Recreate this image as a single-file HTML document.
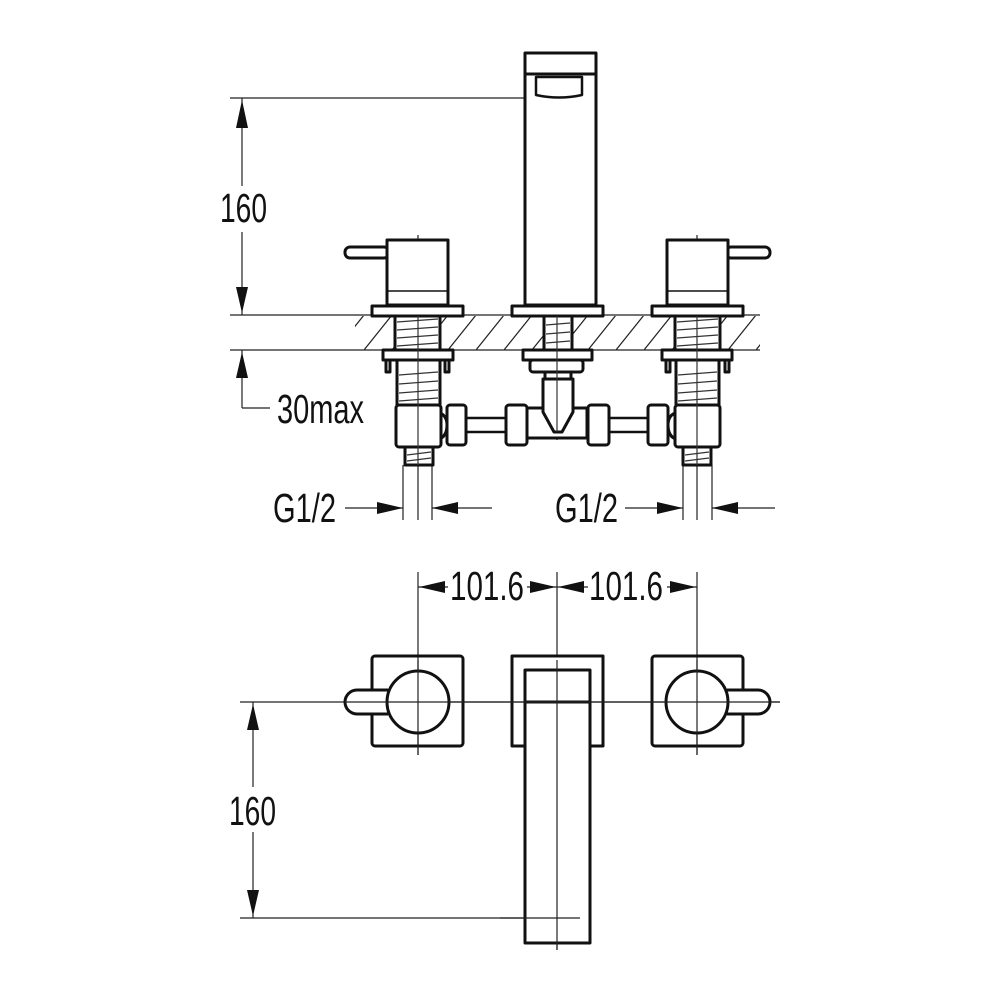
<!DOCTYPE html>
<html><head><meta charset="utf-8"><style>
html,body{margin:0;padding:0;background:#fff}
svg{display:block}
text{font-family:"Liberation Sans",sans-serif;fill:#111}
</style></head><body>
<svg width="1000" height="1000" viewBox="0 0 1000 1000" xmlns="http://www.w3.org/2000/svg">
<defs>
<pattern id="h" patternUnits="userSpaceOnUse" width="28" height="35">
<line x1="0" y1="35" x2="28" y2="0" stroke="#222" stroke-width="1.2"/>
</pattern>
<clipPath id="c"><rect x="355" y="316" width="405" height="34"/></clipPath>
</defs>
<g fill="none" stroke="#222" stroke-width="1.2">
<line x1="230" y1="98" x2="525" y2="98"/>
<line x1="242" y1="98" x2="242" y2="186"/>
<line x1="242" y1="232" x2="242" y2="315"/>
<line x1="230" y1="315" x2="760" y2="315"/>
<line x1="230" y1="350" x2="760" y2="350"/>
<line x1="242" y1="350" x2="242" y2="408"/>
<line x1="242" y1="408" x2="270" y2="408"/>
<rect x="355" y="316" width="405" height="34" fill="url(#h)" stroke="none" clip-path="url(#c)"/>
<line x1="418" y1="235" x2="418" y2="520"/>
<line x1="557" y1="55" x2="557" y2="440"/>
<line x1="697" y1="235" x2="697" y2="520"/>
<line x1="403" y1="465" x2="403" y2="520"/>
<line x1="432" y1="465" x2="432" y2="520"/>
<line x1="683" y1="465" x2="683" y2="520"/>
<line x1="712" y1="465" x2="712" y2="520"/>
<line x1="345" y1="508" x2="403" y2="508"/>
<line x1="432" y1="508" x2="492" y2="508"/>
<line x1="625" y1="508" x2="683" y2="508"/>
<line x1="712" y1="508" x2="775" y2="508"/>
<line x1="418" y1="572" x2="418" y2="755"/>
<line x1="557" y1="572" x2="557" y2="655"/>
<line x1="697" y1="572" x2="697" y2="755"/>
<line x1="418" y1="587" x2="448" y2="587"/>
<line x1="527" y1="587" x2="588" y2="587"/>
<line x1="667" y1="587" x2="697" y2="587"/>
<line x1="240" y1="702" x2="780" y2="702"/>
<line x1="557" y1="702" x2="557" y2="950"/>
<line x1="253" y1="702" x2="253" y2="787"/>
<line x1="253" y1="832" x2="253" y2="918"/>
<line x1="240" y1="918" x2="580" y2="918"/>
</g>
<g fill="#111">
<polygon points="242,100 236,128 248,128"/>
<polygon points="242,313 236,287 248,287"/>
<polygon points="242,352 236,378 248,378"/>
<polygon points="403,508 377,502 377,514"/>
<polygon points="432,508 458,502 458,514"/>
<polygon points="683,508 657,502 657,514"/>
<polygon points="712,508 738,502 738,514"/>
<polygon points="419,587 445,581 445,593"/>
<polygon points="556,587 530,581 530,593"/>
<polygon points="558,587 584,581 584,593"/>
<polygon points="696,587 670,581 670,593"/>
<polygon points="253,704 247,730 259,730"/>
<polygon points="253,916 247,890 259,890"/>
</g>
<g font-size="41">
<text x="220" y="222" textLength="47" lengthAdjust="spacingAndGlyphs">160</text>
<text x="277" y="423" textLength="87" lengthAdjust="spacingAndGlyphs">30max</text>
<text x="273" y="522" textLength="63" lengthAdjust="spacingAndGlyphs">G1/2</text>
<text x="555" y="522" textLength="63" lengthAdjust="spacingAndGlyphs">G1/2</text>
<text x="450" y="600" textLength="74" lengthAdjust="spacingAndGlyphs">101.6</text>
<text x="589" y="600" textLength="74" lengthAdjust="spacingAndGlyphs">101.6</text>
<text x="229" y="825" textLength="47" lengthAdjust="spacingAndGlyphs">160</text>
</g>
<g fill="#fff" stroke="#111" stroke-width="3" stroke-linejoin="round">
<rect x="525" y="53" width="71" height="252"/>
<line x1="525" y1="74" x2="596" y2="74"/>
<path d="M536,77 H582 V95 Q559,100 536,95 Z" stroke-width="2.5"/>
<rect x="345" y="247" width="44" height="11" rx="5"/>
<rect x="387" y="240" width="61" height="65"/>
<line x1="387" y1="291" x2="448" y2="291" stroke-width="1.5"/>
<rect x="726" y="247" width="44" height="11" rx="5"/>
<rect x="667" y="240" width="61" height="65"/>
<line x1="667" y1="291" x2="728" y2="291" stroke-width="1.5"/>
<rect x="372" y="306" width="91" height="10"/>
<rect x="512" y="306" width="91" height="10"/>
<rect x="652" y="306" width="91" height="10"/>
<rect x="395" y="316" width="45" height="34"/>
<rect x="544" y="316" width="28" height="34"/>
<rect x="675" y="316" width="45" height="34"/>
<rect x="386" y="358" width="4" height="14"/><rect x="445" y="358" width="4" height="14"/>
<rect x="383" y="350" width="70" height="10"/>
<rect x="397" y="360" width="43" height="45"/>
<path d="M433,412 Q447,412 447,425 Q447,440 433,440 Z"/>
<rect x="396" y="405" width="45" height="42" rx="3"/>
<rect x="405" y="447" width="28" height="18"/>
<rect x="666" y="358" width="4" height="14"/><rect x="725" y="358" width="4" height="14"/>
<rect x="662" y="350" width="70" height="10"/>
<rect x="676" y="360" width="43" height="45"/>
<path d="M682,412 Q668,412 668,425 Q668,440 682,440 Z"/>
<rect x="675" y="405" width="45" height="42" rx="3"/>
<rect x="683" y="447" width="28" height="18"/>
<rect x="460" y="418" width="200" height="14" stroke-width="2.5"/>
<rect x="527" y="408" width="60" height="30"/>
<rect x="447" y="405" width="19" height="40" rx="3"/>
<rect x="506" y="405" width="21" height="40" rx="3"/>
<rect x="588" y="405" width="21" height="40" rx="3"/>
<rect x="648" y="405" width="20" height="40" rx="3"/>
<rect x="523" y="350" width="69" height="10"/>
<rect x="530" y="360" width="53" height="12" rx="3"/>
<rect x="545" y="372" width="26" height="7"/>
<path d="M543,379 H573 V412 L562,432 H554 L543,412 Z"/>
</g>
<g stroke="#333" stroke-width="1.2">
<line x1="397" y1="322" x2="438" y2="319"/><line x1="397" y1="330" x2="438" y2="327"/><line x1="397" y1="338" x2="438" y2="335"/><line x1="397" y1="346" x2="438" y2="343"/>
<line x1="677" y1="322" x2="718" y2="319"/><line x1="677" y1="330" x2="718" y2="327"/><line x1="677" y1="338" x2="718" y2="335"/><line x1="677" y1="346" x2="718" y2="343"/>
<line x1="546" y1="325" x2="570" y2="323"/><line x1="546" y1="334" x2="570" y2="332"/><line x1="546" y1="343" x2="570" y2="341"/>
<line x1="399" y1="375" x2="438" y2="372"/><line x1="399" y1="384" x2="438" y2="381"/><line x1="399" y1="393" x2="438" y2="390"/><line x1="399" y1="401" x2="438" y2="398"/>
<line x1="678" y1="375" x2="717" y2="372"/><line x1="678" y1="384" x2="717" y2="381"/><line x1="678" y1="393" x2="717" y2="390"/><line x1="678" y1="401" x2="717" y2="398"/>
<line x1="407" y1="455" x2="431" y2="452"/><line x1="407" y1="461" x2="431" y2="458"/>
<line x1="685" y1="455" x2="709" y2="452"/><line x1="685" y1="461" x2="709" y2="458"/>
<line x1="418" y1="316" x2="418" y2="465"/><line x1="697" y1="316" x2="697" y2="465"/><line x1="557" y1="316" x2="557" y2="432"/>
</g>
<g fill="none" stroke="#111" stroke-width="3" stroke-linejoin="round">
<rect x="372" y="656" width="91" height="90" rx="3"/>
<rect x="652" y="656" width="91" height="90" rx="3"/>
<path d="M388,690 H357 A12,12 0 0 0 357,714 H388" fill="#fff"/>
<path d="M727,690 H758 A12,12 0 0 1 758,714 H727" fill="#fff"/>
<circle cx="418" cy="702" r="31" fill="#fff"/>
<circle cx="697" cy="702" r="31" fill="#fff"/>
<path d="M525,746 H512 V656 H603 V746 H590"/>
<rect x="525" y="670" width="65" height="273" fill="#fff"/>
<line x1="525" y1="702" x2="590" y2="702"/>
</g>
<g stroke="#222" stroke-width="1.2">
<line x1="557" y1="660" x2="557" y2="950"/>
<line x1="418" y1="660" x2="418" y2="755"/>
<line x1="697" y1="660" x2="697" y2="755"/>
<line x1="345" y1="702" x2="780" y2="702"/>
<line x1="500" y1="918" x2="580" y2="918"/>
</g>
</svg>
</body></html>
